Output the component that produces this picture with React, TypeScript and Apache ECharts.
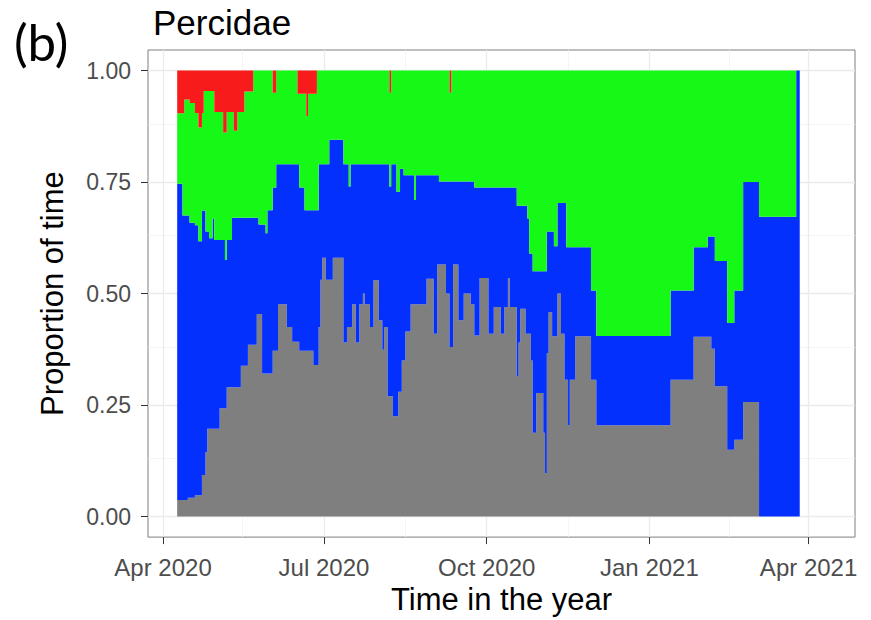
import React, { useEffect, useRef } from "react";
import * as echarts from "echarts";

// Start date of each step segment (the last entry closes the final segment)
const segmentStarts = [
  "2020-04-09", "2020-04-12", "2020-04-13", "2020-04-15", "2020-04-16", "2020-04-19", "2020-04-21", "2020-04-23", "2020-04-24", "2020-04-25",
  "2020-04-26", "2020-04-27", "2020-04-29", "2020-04-30", "2020-05-03", "2020-05-05", "2020-05-06", "2020-05-07", "2020-05-10", "2020-05-11",
  "2020-05-13", "2020-05-15", "2020-05-17", "2020-05-19", "2020-05-22", "2020-05-24", "2020-05-25", "2020-05-27", "2020-05-29", "2020-05-30",
  "2020-06-02", "2020-06-04", "2020-06-05", "2020-06-10", "2020-06-13", "2020-06-16", "2020-06-17", "2020-06-20", "2020-06-21", "2020-06-22",
  "2020-06-25", "2020-06-27", "2020-06-28", "2020-06-29", "2020-06-30", "2020-07-02", "2020-07-04", "2020-07-06", "2020-07-12", "2020-07-14",
  "2020-07-15", "2020-07-16", "2020-07-17", "2020-07-19", "2020-07-21", "2020-07-23", "2020-07-24", "2020-07-27", "2020-07-29", "2020-08-01",
  "2020-08-03", "2020-08-04", "2020-08-06", "2020-08-07", "2020-08-08", "2020-08-09", "2020-08-11", "2020-08-12", "2020-08-13", "2020-08-14",
  "2020-08-15", "2020-08-16", "2020-08-19", "2020-08-21", "2020-08-22", "2020-08-28", "2020-09-01", "2020-09-03", "2020-09-04", "2020-09-08",
  "2020-09-10", "2020-09-11", "2020-09-12", "2020-09-15", "2020-09-18", "2020-09-22", "2020-09-24", "2020-09-27", "2020-10-02", "2020-10-05",
  "2020-10-09", "2020-10-11", "2020-10-13", "2020-10-14", "2020-10-18", "2020-10-19", "2020-10-20", "2020-10-23", "2020-10-24", "2020-10-25",
  "2020-10-26", "2020-10-27", "2020-10-29", "2020-11-02", "2020-11-03", "2020-11-04", "2020-11-05", "2020-11-07", "2020-11-08", "2020-11-10",
  "2020-11-12", "2020-11-14", "2020-11-15", "2020-11-16", "2020-11-17", "2020-11-20", "2020-11-29", "2020-12-02", "2021-01-13", "2021-01-26",
  "2021-02-03", "2021-02-05", "2021-02-07", "2021-02-14", "2021-02-18", "2021-02-23", "2021-03-04", "2021-03-25", "2021-03-27",
];

// Proportion of time per state (gray bottom, then blue, green, red on top)
const grayShare = [
  0.037, 0.037, 0.037, 0.042, 0.042, 0.048, 0.048, 0.093, 0.093, 0.144,
  0.197, 0.197, 0.197, 0.197, 0.243, 0.243, 0.243, 0.29, 0.29, 0.29,
  0.29, 0.338, 0.338, 0.385, 0.385, 0.454, 0.454, 0.321, 0.321, 0.321,
  0.372, 0.372, 0.476, 0.425, 0.392, 0.392, 0.372, 0.372, 0.372, 0.372,
  0.34, 0.34, 0.425, 0.531, 0.58, 0.531, 0.531, 0.58, 0.39, 0.425,
  0.425, 0.425, 0.476, 0.39, 0.476, 0.5, 0.476, 0.425, 0.53, 0.44,
  0.374, 0.425, 0.27, 0.27, 0.27, 0.225, 0.225, 0.28, 0.28, 0.35,
  0.35, 0.415, 0.476, 0.476, 0.476, 0.533, 0.41, 0.565, 0.565, 0.5,
  0.38, 0.38, 0.565, 0.44, 0.5, 0.476, 0.406, 0.535, 0.41, 0.47,
  0.41, 0.47, 0.535, 0.47, 0.314, 0.39, 0.466, 0.41, 0.41, 0.41,
  0.35, 0.188, 0.277, 0.188, 0.097, 0.367, 0.458, 0.404, 0.404, 0.5,
  0.41, 0.307, 0.307, 0.205, 0.307, 0.404, 0.307, 0.205, 0.307, 0.403,
  0.403, 0.376, 0.292, 0.15, 0.172, 0.257, 0, 0, 0,
];
const blueShare = [
  0.709, 0.638, 0.638, 0.633, 0.617, 0.605, 0.569, 0.593, 0.593, 0.495,
  0.442, 0.427, 0.471, 0.423, 0.377, 0.377, 0.332, 0.33, 0.38, 0.38,
  0.38, 0.332, 0.332, 0.285, 0.285, 0.216, 0.201, 0.334, 0.314, 0.366,
  0.366, 0.418, 0.314, 0.365, 0.398, 0.398, 0.366, 0.315, 0.315, 0.315,
  0.347, 0.347, 0.365, 0.259, 0.21, 0.259, 0.314, 0.265, 0.4, 0.365,
  0.315, 0.365, 0.314, 0.4, 0.314, 0.29, 0.314, 0.365, 0.26, 0.35,
  0.416, 0.365, 0.52, 0.47, 0.52, 0.565, 0.503, 0.448, 0.5, 0.43,
  0.415, 0.35, 0.289, 0.234, 0.289, 0.232, 0.355, 0.2, 0.186, 0.251,
  0.371, 0.371, 0.186, 0.311, 0.251, 0.275, 0.332, 0.203, 0.328, 0.268,
  0.328, 0.268, 0.203, 0.268, 0.383, 0.307, 0.231, 0.287, 0.258, 0.18,
  0.24, 0.362, 0.273, 0.362, 0.453, 0.272, 0.181, 0.235, 0.202, 0.203,
  0.293, 0.396, 0.297, 0.399, 0.297, 0.2, 0.2, 0.2, 0.2, 0.201,
  0.225, 0.252, 0.281, 0.284, 0.335, 0.493, 0.672, 1, 1,
];
const greenShare = [
  0.158, 0.229, 0.26, 0.26, 0.268, 0.252, 0.255, 0.219, 0.268, 0.315,
  0.315, 0.33, 0.286, 0.287, 0.287, 0.241, 0.286, 0.287, 0.237, 0.195,
  0.237, 0.237, 0.283, 0.283, 0.33, 0.33, 0.345, 0.345, 0.365, 0.313,
  0.212, 0.21, 0.21, 0.21, 0.21, 0.158, 0.21, 0.261, 0.211, 0.261,
  0.261, 0.313, 0.21, 0.21, 0.21, 0.21, 0.155, 0.155, 0.21, 0.21,
  0.26, 0.21, 0.21, 0.21, 0.21, 0.21, 0.21, 0.21, 0.21, 0.21,
  0.21, 0.21, 0.21, 0.21, 0.21, 0.21, 0.272, 0.272, 0.22, 0.22,
  0.235, 0.235, 0.235, 0.29, 0.235, 0.235, 0.235, 0.235, 0.249, 0.249,
  0.199, 0.249, 0.249, 0.249, 0.249, 0.249, 0.262, 0.262, 0.262, 0.262,
  0.262, 0.262, 0.262, 0.262, 0.303, 0.303, 0.303, 0.303, 0.332, 0.41,
  0.41, 0.45, 0.45, 0.45, 0.45, 0.361, 0.361, 0.361, 0.394, 0.297,
  0.297, 0.297, 0.396, 0.396, 0.396, 0.396, 0.493, 0.595, 0.493, 0.396,
  0.372, 0.372, 0.427, 0.566, 0.493, 0.25, 0.328, 0, 0,
];
const redShare = [
  0.096, 0.096, 0.065, 0.065, 0.073, 0.095, 0.128, 0.095, 0.046, 0.046,
  0.046, 0.046, 0.046, 0.093, 0.093, 0.139, 0.139, 0.093, 0.093, 0.135,
  0.093, 0.093, 0.047, 0.047, 0, 0, 0, 0, 0, 0,
  0.05, 0, 0, 0, 0, 0.052, 0.052, 0.052, 0.102, 0.052,
  0.052, 0, 0, 0, 0, 0, 0, 0, 0, 0,
  0, 0, 0, 0, 0, 0, 0, 0, 0, 0,
  0, 0, 0, 0.05, 0, 0, 0, 0, 0, 0,
  0, 0, 0, 0, 0, 0, 0, 0, 0, 0,
  0.05, 0, 0, 0, 0, 0, 0, 0, 0, 0,
  0, 0, 0, 0, 0, 0, 0, 0, 0, 0,
  0, 0, 0, 0, 0, 0, 0, 0, 0, 0,
  0, 0, 0, 0, 0, 0, 0, 0, 0, 0,
  0, 0, 0, 0, 0, 0, 0, 0, 0,
];

const yTickValues = [0, 0.25, 0.5, 0.75, 1];
const yMinorValues = [0.125, 0.375, 0.625, 0.875];
const xTickDates = ["2020-04-01", "2020-07-01", "2020-10-01", "2021-01-01", "2021-04-01"];
const xTickLabels = ["Apr 2020", "Jul 2020", "Oct 2020", "Jan 2021", "Apr 2021"];
const xMinorDates = ["2020-05-16", "2020-08-16", "2020-11-16", "2021-02-15"];
const xRange = ["2020-03-23 12:00", "2021-04-27 06:00"];
const yRange = [-0.046, 1.046];

const COLORS = { gray: "#7f7f7f", blue: "#0430fe", green: "#16f816", red: "#f81b1b" };
const FONT = "'Liberation Sans', Arial, sans-serif";

export default function App() {
  const ref = useRef<HTMLDivElement>(null);

  useEffect(() => {
    if (!ref.current) return;
    const chart = echarts.init(ref.current, null, { renderer: "svg" });
    const parse = (s: string) => +echarts.time.parse(s);
    const xMin = parse(xRange[0]);
    const xMax = parse(xRange[1]);
    const xTickValues = xTickDates.map(parse);
    const xMinorValues = xMinorDates.map(parse);

    const mk = (name: string, values: number[], color: string) => ({
      name,
      type: "line",
      stack: "total",
      step: "end",
      symbol: "none",
      xAxisIndex: 0,
      z: 5,
      silent: true,
      lineStyle: { width: 0, color },
      itemStyle: { color },
      areaStyle: { color, opacity: 1 },
      data: segmentStarts.map((d, i) => [d, values[i]]),
    });

    const major = { color: "#ebebeb", width: 1.3, type: "solid" };
    const minor = { color: "#f3f3f3", width: 0.8, type: "solid" };
    const gridLines: any[] = [
      ...yTickValues.map((v) => ({ yAxis: v, lineStyle: major })),
      ...yMinorValues.map((v) => ({ yAxis: v, lineStyle: minor })),
      ...xTickValues.map((v) => ({ xAxis: v, lineStyle: major })),
      ...xMinorValues.map((v) => ({ xAxis: v, lineStyle: minor })),
    ];

    chart.setOption({
      animation: false,
      backgroundColor: "#ffffff",
      textStyle: { fontFamily: FONT },
      graphic: [
        { type: "text", left: 14, top: 16, style: { text: "(b)", fontSize: 51, fontFamily: "Lato, 'Open Sans', sans-serif", fill: "#000" } },
        { type: "text", left: 153, top: 5, style: { text: "Percidae", fontSize: 35, fontFamily: FONT, fill: "#000" } },
      ],
      grid: {
        left: 148, top: 50, width: 707, height: 494,
        show: true, borderColor: "#7f7f7f", borderWidth: 1, backgroundColor: "#fff",
      },
      xAxis: [
        {
          type: "time",
          min: xRange[0],
          max: xRange[1],
          show: true,
          axisLine: { show: false },
          axisTick: { show: false },
          axisLabel: { show: false },
          splitLine: { show: false },
        },
        {
          type: "value",
          position: "bottom",
          min: xMin,
          max: xMax,
          name: "Time in the year",
          nameLocation: "middle",
          nameGap: 43,
          nameTextStyle: { fontSize: 31, color: "#000", fontFamily: FONT, verticalAlign: "top" },
          axisLine: { show: false },
          axisTick: { show: true, customValues: xTickValues, length: 7, lineStyle: { color: "#333", width: 1 } },
          axisLabel: {
            customValues: xTickValues,
            fontSize: 24,
            color: "#4d4d4d",
            margin: 18,
            formatter: (v: number) => {
              const i = xTickValues.findIndex((t) => Math.abs(t - v) < 86400000);
              return i >= 0 ? xTickLabels[i] : "";
            },
          },
          splitLine: { show: false },
        },
      ],
      yAxis: {
        type: "value",
        min: yRange[0],
        max: yRange[1],
        name: "Proportion of time",
        nameLocation: "middle",
        nameGap: 80,
        nameTextStyle: { fontSize: 31, color: "#000", fontFamily: FONT },
        axisLine: { show: false },
        axisTick: { show: true, customValues: yTickValues, length: 7, lineStyle: { color: "#333", width: 1 } },
        axisLabel: {
          customValues: yTickValues,
          fontSize: 23,
          color: "#4d4d4d",
          margin: 17,
          formatter: (v: number) => v.toFixed(2),
        },
        splitLine: { show: false },
      },
      series: [
        {
          name: "grid",
          type: "line",
          xAxisIndex: 1,
          data: [],
          z: 1,
          silent: true,
          markLine: { z: 1, silent: true, symbol: ["none", "none"], label: { show: false }, animation: false, data: gridLines },
        },
        mk("gray", grayShare, COLORS.gray),
        mk("blue", blueShare, COLORS.blue),
        mk("green", greenShare, COLORS.green),
        mk("red", redShare, COLORS.red),
      ],
    });
    return () => chart.dispose();
  }, []);

  return <div ref={ref} style={{ width: 871, height: 620, position: "absolute", left: 0, top: 0 }} />;
}
